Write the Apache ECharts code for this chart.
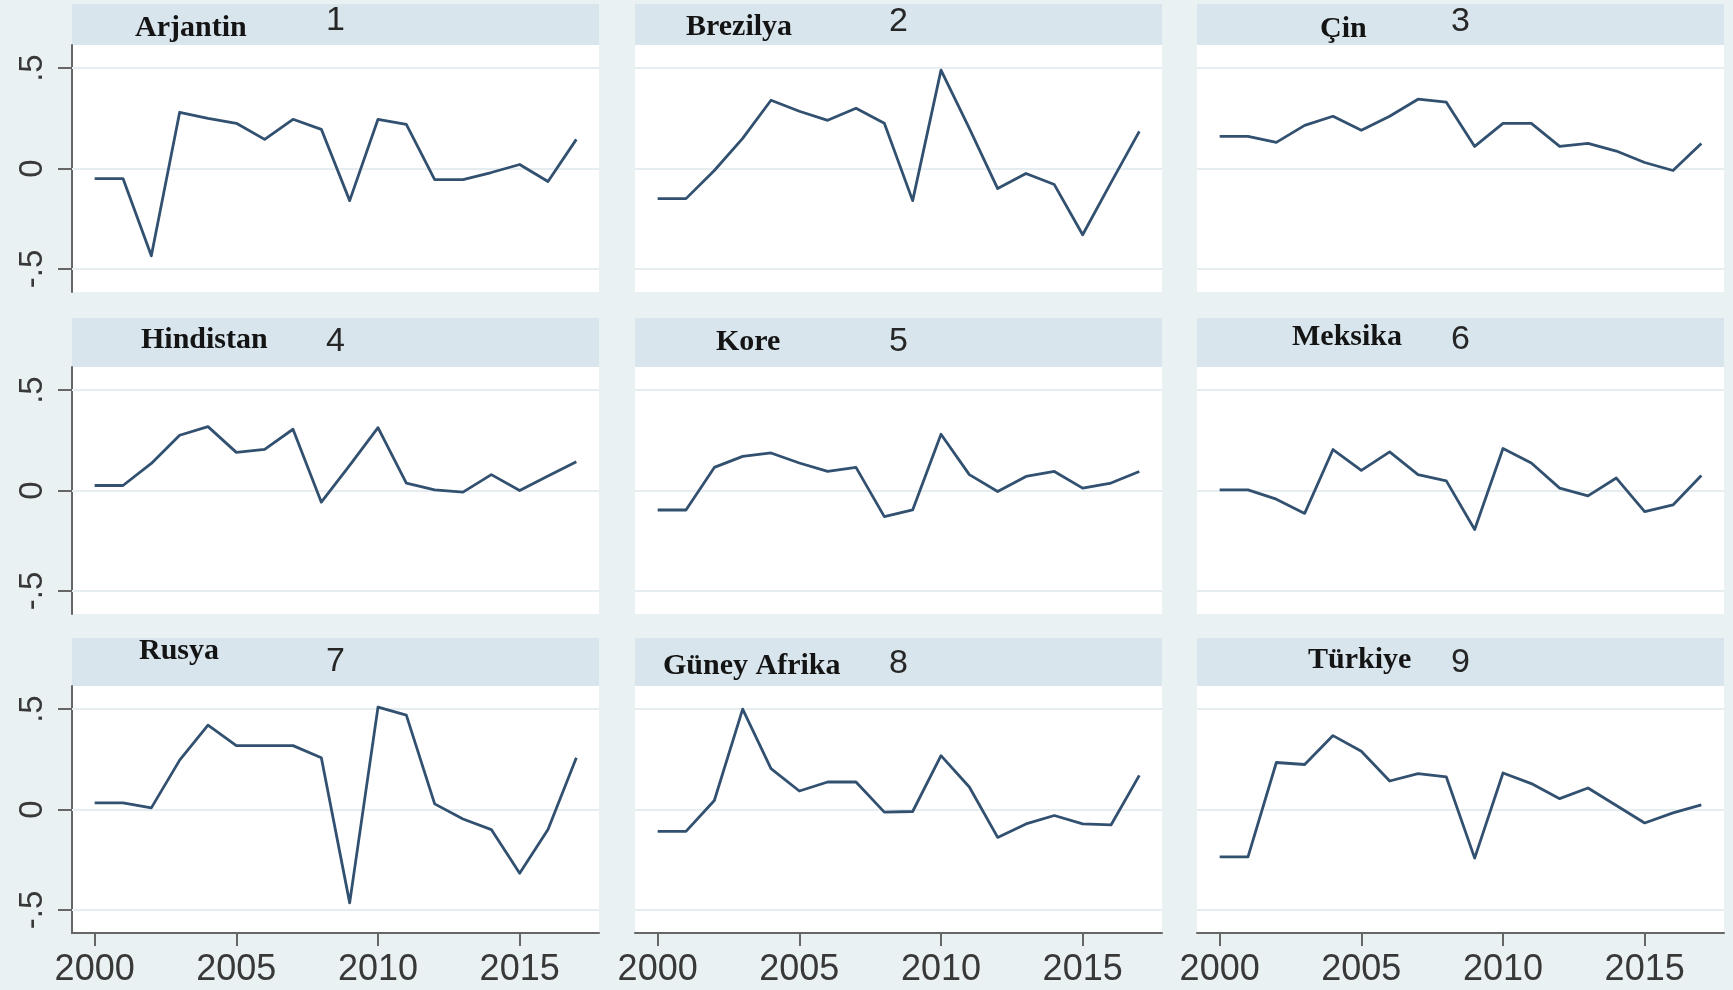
<!DOCTYPE html>
<html>
<head>
<meta charset="utf-8">
<title>Ülke paneli 2000-2017</title>
<script src="https://cdn.jsdelivr.net/npm/echarts@6/dist/echarts.min.js"></script>
<style>
  html, body { margin: 0; padding: 0; background: #e9f1f3; }
  #chart { width: 1733px; height: 990px; }
</style>
</head>
<body>
<div id="chart"></div>
<script>
// Years on the horizontal axis
const years = [2000, 2001, 2002, 2003, 2004, 2005, 2006, 2007, 2008,
               2009, 2010, 2011, 2012, 2013, 2014, 2015, 2016, 2017];
const xTickValues = [2000, 2005, 2010, 2015];
const yTickValues = [-0.5, 0, 0.5];
const yTickLabels = ['-.5', '0', '.5'];

// Panel titles and their numbers
const countryNames = ['Arjantin', 'Brezilya', 'Çin', 'Hindistan', 'Kore', 'Meksika',
                      'Rusya', 'Güney Afrika', 'Türkiye'];
const panelNumbers = ['1', '2', '3', '4', '5', '6', '7', '8', '9'];

// Series values, one per country
const arjantin = [-0.05, -0.05, -0.435, 0.28, 0.25, 0.225, 0.145, 0.245, 0.195,
                  -0.16, 0.245, 0.22, -0.055, -0.055, -0.02, 0.02, -0.065, 0.145];
const brezilya = [-0.15, -0.15, -0.01, 0.15, 0.34, 0.285, 0.24, 0.3, 0.225,
                  -0.16, 0.49, 0.2, -0.1, -0.025, -0.08, -0.33, -0.07, 0.185];
const cin = [0.16, 0.16, 0.13, 0.215, 0.26, 0.19, 0.26, 0.345, 0.33,
             0.11, 0.225, 0.225, 0.11, 0.125, 0.087, 0.03, -0.01, 0.125];
const hindistan = [0.025, 0.025, 0.135, 0.275, 0.318, 0.19, 0.205, 0.305, -0.058,
                   0.125, 0.313, 0.037, 0.003, -0.008, 0.079, 0.0, 0.072, 0.143];
const kore = [-0.097, -0.097, 0.115, 0.17, 0.187, 0.137, 0.095, 0.115, -0.13,
              -0.097, 0.28, 0.079, -0.005, 0.07, 0.095, 0.012, 0.037, 0.095];
const meksika = [0.003, 0.003, -0.043, -0.114, 0.204, 0.1, 0.192, 0.079, 0.048,
                 -0.194, 0.209, 0.137, 0.012, -0.027, 0.062, -0.105, -0.072, 0.075];
const rusya = [0.033, 0.033, 0.008, 0.246, 0.42, 0.318, 0.318, 0.318, 0.258,
               -0.465, 0.51, 0.47, 0.028, -0.047, -0.1, -0.318, -0.1, 0.258];
const guneyAfrika = [-0.109, -0.109, 0.045, 0.5, 0.204, 0.092, 0.137, 0.137, -0.013,
                     -0.01, 0.268, 0.112, -0.139, -0.072, -0.03, -0.072, -0.077, 0.17];
const turkiye = [-0.236, -0.236, 0.234, 0.224, 0.368, 0.29, 0.142, 0.179, 0.162,
                 -0.242, 0.182, 0.129, 0.054, 0.107, 0.02, -0.067, -0.017, 0.023];

const panelValues = [arjantin, brezilya, cin, hindistan, kore, meksika,
                     rusya, guneyAfrika, turkiye];

// Panel geometry (pixels)
const colLeft = [72, 635, 1197];
const plotWidth = 527;
const rowTop = [45, 367, 686];
const plotHeight = 247;
const headerTop = [4, 318, 638];
// Title placement inside each header band
const nameLeft = [135, 686, 1320, 141, 716, 1292, 139, 663, 1308];
const nameMidY = [28, 27, 29, 340, 342, 337, 651, 666, 660];
const numberMidY = [21, 22, 22, 342, 342, 340, 662, 664, 663];

const lineColor = '#32506f';
const gridLineColor = '#e6edf0';
const axisColor = '#666666';
const headerColor = '#d8e5ec';
const tickFont = '"Liberation Sans", Arial, sans-serif';

const grids = [], xAxes = [], yAxes = [], series = [], graphics = [];

for (let p = 0; p < 9; p++) {
  const r = Math.floor(p / 3), c = p % 3;
  const isBottom = r === 2, isLeft = c === 0;

  grids.push({
    left: colLeft[c], top: rowTop[r], width: plotWidth, height: plotHeight,
    show: true, backgroundColor: '#ffffff', borderWidth: 0
  });

  xAxes.push({
    type: 'value', gridIndex: p, min: 1999.2, max: 2017.8,
    splitLine: { show: false },
    axisLine: { show: isBottom, onZero: false, lineStyle: { color: axisColor, width: 2 } },
    axisTick: { show: isBottom, length: 13, customValues: xTickValues,
                lineStyle: { color: axisColor, width: 2 } },
    axisLabel: { show: isBottom, customValues: xTickValues, margin: 19,
                 fontSize: 36, color: '#383838', fontFamily: tickFont,
                 formatter: v => String(v) }
  });

  yAxes.push({
    type: 'value', gridIndex: p, min: -0.615, max: 0.615,
    splitLine: { show: false },
    axisLine: { show: isLeft, onZero: false, lineStyle: { color: axisColor, width: 2 } },
    axisTick: { show: isLeft, length: 14, customValues: yTickValues,
                lineStyle: { color: axisColor, width: 2 } },
    axisLabel: { show: isLeft, customValues: yTickValues, rotate: 90, margin: 23,
                 fontSize: 33, color: '#383838', fontFamily: tickFont,
                 formatter: v => yTickLabels[yTickValues.indexOf(Math.round(v * 10) / 10)] }
  });

  series.push({
    type: 'line', xAxisIndex: p, yAxisIndex: p,
    data: years.map((y, i) => [y, panelValues[p][i]]),
    showSymbol: false, symbol: 'none', z: 3,
    lineStyle: { color: lineColor, width: 2.8, join: 'round' },
    markLine: {
      silent: true, symbol: 'none', z: 1, animation: false,
      label: { show: false },
      lineStyle: { color: gridLineColor, width: 2, type: 'solid' },
      data: yTickValues.map(v => ({ yAxis: v }))
    }
  });

  // Header band
  graphics.push({
    type: 'rect', silent: true, z: 0,
    shape: { x: colLeft[c], y: headerTop[r], width: plotWidth, height: rowTop[r] - headerTop[r] },
    style: { fill: headerColor }
  });
  // Country name
  graphics.push({
    type: 'text', silent: true, z: 10,
    x: nameLeft[p], y: nameMidY[p],
    style: { text: countryNames[p], fill: '#141414',
             font: 'bold 30px "Liberation Serif", "Times New Roman", serif',
             textAlign: 'left', textVerticalAlign: 'middle' }
  });
  // Panel number
  graphics.push({
    type: 'text', silent: true, z: 10,
    x: colLeft[c] + plotWidth / 2, y: numberMidY[p],
    style: { text: panelNumbers[p], fill: '#262626',
             font: '34px "Liberation Sans", Arial, sans-serif',
             textAlign: 'center', textVerticalAlign: 'middle' }
  });
}

const chart = echarts.init(document.getElementById('chart'), null, { renderer: 'canvas' });
chart.setOption({
  backgroundColor: '#e9f1f3',
  animation: false,
  grid: grids,
  xAxis: xAxes,
  yAxis: yAxes,
  series: series,
  graphic: graphics
});
</script>
</body>
</html>
